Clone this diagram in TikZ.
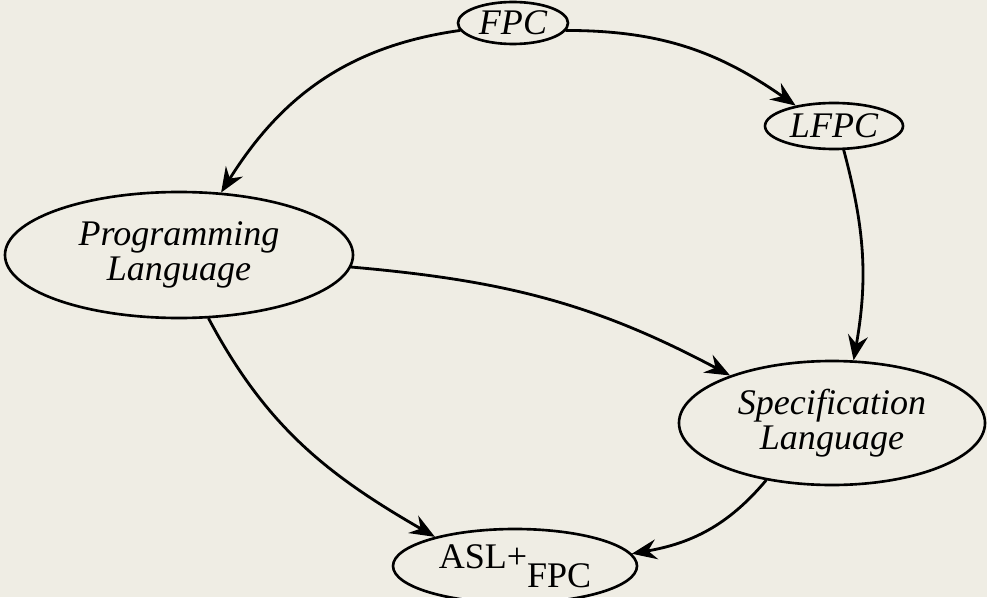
\documentclass[tikz,border=0pt]{standalone}
\usepackage{fontspec}
\setmainfont{Liberation Serif}
\usepackage{tikz}
\usetikzlibrary{arrows.meta,shapes.geometric}
\definecolor{paper}{RGB}{239,237,228}

\begin{document}
\begin{tikzpicture}[line cap=round,line join=round,>={Stealth[length=0.5cm,width=0.4cm,inset=0.17cm]},x=1cm,y=1cm,
			oval/.style={draw,ellipse,line width=1.5pt,inner sep=0pt,align=center,font=\fontsize{20.5}{20}\selectfont\itshape},
			link/.style={->,line width=1.6pt}]
			\fill[paper] (0,0) rectangle (19.74,11.94);
			\useasboundingbox (0,0) rectangle (19.74,11.94);
			\node[oval,minimum width=2.2cm,minimum height=0.84cm] (fpc) at (10.26,11.48) {FPC};
			\node[oval,minimum width=2.76cm,minimum height=0.92cm] (lfpc) at (16.68,9.42) {LFPC};
			\node[oval,minimum width=6.96cm,minimum height=2.52cm] (prog) at (3.58,6.84) {Programming\\Language};
			\node[oval,minimum width=6.12cm,minimum height=2.48cm] (spec) at (16.64,3.48) {Specification\\Language};
			\node[oval,minimum width=4.88cm,minimum height=1.48cm,font=\fontsize{20.5}{20}\selectfont\upshape] (asl) at (10.3,0.62) {ASL+\raisebox{-0.38cm}{FPC}};
			\draw[link] (fpc.188) to[out=188,in=58] (prog.56);
			\draw[link] (fpc.352) to[out=0,in=145] (lfpc.152);
			\draw[link] (lfpc.-68) to[out=-75,in=80] (spec.71);
			\draw[link] (prog.356) to[out=-5,in=152] (spec.155);
			\draw[link] (prog.295) to[out=-62,in=150] (asl.160);
			\draw[link] (spec.221) to[out=230,in=10] (asl.6);
			\end{tikzpicture}
\end{document}
